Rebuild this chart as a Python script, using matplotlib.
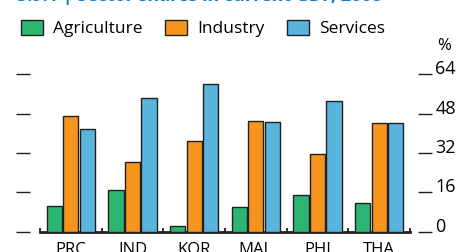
import matplotlib.pyplot as plt
from matplotlib.patches import Patch
import numpy as np

plt.rcParams['font.family'] = ['Open Sans', 'DejaVu Sans']

economies = ["PRC", "IND", "KOR", "MAL", "PHI", "THA"]
agriculture = [10.6, 17.1, 2.4, 10.0, 14.8, 11.5]
industry = [47.2, 28.2, 37.0, 45.1, 31.5, 44.1]
services = [41.6, 54.2, 60.2, 44.5, 53.3, 44.1]
yticks = [0, 16, 32, 48, 64]

colors = ["#2db673", "#f7941d", "#59b4de"]
names = ["Agriculture", "Industry", "Services"]

fig = plt.figure(figsize=(4.57, 2.52), dpi=100)
ax = fig.add_axes([0.0875, 0.0806, 0.8096, 0.6246])

x = np.arange(len(economies))
w = 0.245
step = 0.268
for i, vals in enumerate([agriculture, industry, services]):
    ax.bar(x + (i - 1) * step, vals, w, color=colors[i], edgecolor="#231f20",
           linewidth=1.0, zorder=3)

ax.set_xlim(-0.5, len(economies) - 0.5)
ax.set_ylim(0, 64)
ax.set_xticks(x)
ax.set_xticklabels(economies, fontsize=12)
ax.set_xticks(np.arange(-0.5, len(economies)), minor=True)
ax.tick_params(axis="x", which="major", length=0, pad=7.5)
ax.tick_params(axis="x", which="minor", direction="in", length=3, width=1.3, color="#231f20")

for s in ["top", "left", "right"]:
    ax.spines[s].set_visible(False)
ax.spines["bottom"].set_linewidth(2)
ax.spines["bottom"].set_color("#231f20")

ax.set_yticks(yticks)
ax.spines["left"].set_position(("outward", 7))
ax.spines["right"].set_position(("outward", 6))
ax.tick_params(axis="y", which="major", left=True, right=True, labelleft=False,
               labelright=True, length=9.8, width=1.0, color="#231f20", labelsize=13, pad=2.5)
for lbl in ax.get_yticklabels(which="both"):
    lbl.set_va("baseline")

fig.text(0.972, 0.817, "%", fontsize=12, ha="center", va="center")

handles = [Patch(facecolor=c, edgecolor="#231f20", linewidth=1.0) for c in colors]
fig.legend(handles, names, loc="upper left", bbox_to_anchor=(0.046, 0.922), ncol=3,
           frameon=False, fontsize=12.5, handlelength=1.25, handleheight=0.95,
           handletextpad=0.6, columnspacing=1.3, borderaxespad=0, borderpad=0)

fig.text(0.037, 0.996, "3.9.1 | Sector shares in current GDP, 2008", fontsize=13,
         fontweight="bold", color="#0b7bc1", va="baseline")

fig.savefig("out.png", dpi=100)
